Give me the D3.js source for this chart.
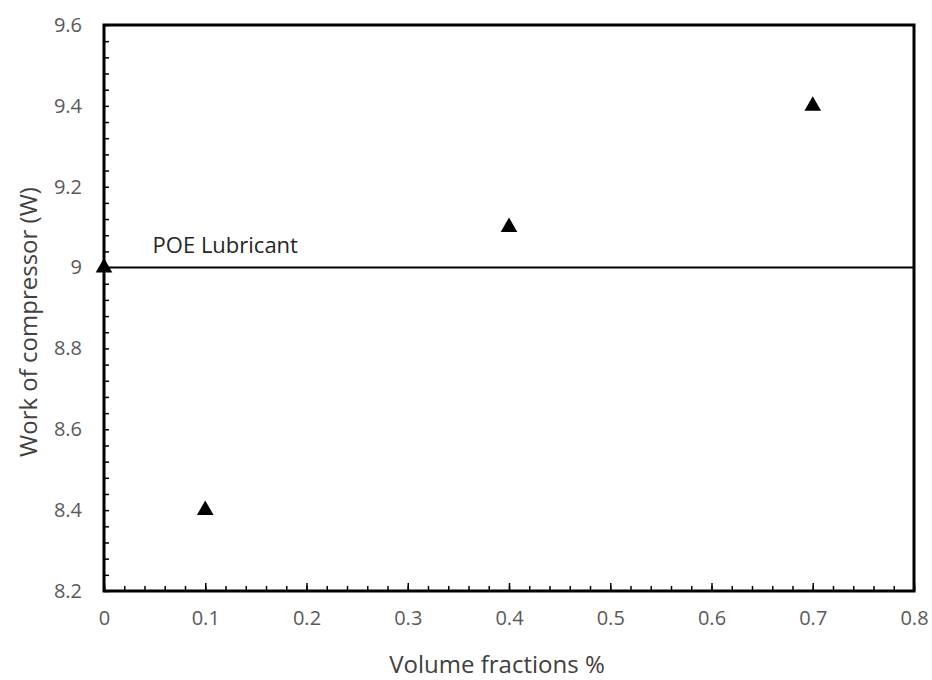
<!DOCTYPE html>
<html>
<head>
<meta charset="utf-8">
<script src="https://cdn.jsdelivr.net/npm/d3@7"></script>
<style>
  body { margin: 0; background: #fff; }
  svg text { font-family: "Open Sans", "Noto Sans", sans-serif; }
</style>
</head>
<body>
<svg></svg>
<script>
const width = 932;
const height = 680;
const svg = d3.select("svg").attr("width", width).attr("height", height);

const fractions = [0, 0.1, 0.4, 0.7];
const work = [9.0, 8.4, 9.1, 9.4];
const xTicks = [0, 0.1, 0.2, 0.3, 0.4, 0.5, 0.6, 0.7, 0.8];
const yTicks = [8.2, 8.4, 8.6, 8.8, 9, 9.2, 9.4, 9.6];
const baseline = 9;
const baselineLabel = "POE Lubricant";

const margin = { top: 25, right: 18, bottom: 89, left: 104 };

const x = d3.scaleLinear().domain([0, 0.8]).range([margin.left, width - margin.right]);
const y = d3.scaleLinear().domain([8.2, 9.6]).range([height - margin.bottom, margin.top]);

const xMinor = d3.range(0, 0.8001, 0.02);
const yMinor = d3.range(8.2, 9.6001, 0.04);

// minor ticks, inside
svg.append("g").attr("transform", `translate(0,${y(8.2)})`)
  .call(d3.axisTop(x).tickValues(xMinor).tickSize(5).tickFormat(""))
  .call(g => g.select(".domain").remove())
  .selectAll("line").attr("stroke", "#000").attr("stroke-width", 1.5);

svg.append("g").attr("transform", `translate(${x(0)},0)`)
  .call(d3.axisRight(y).tickValues(yMinor).tickSize(5).tickFormat(""))
  .call(g => g.select(".domain").remove())
  .selectAll("line").attr("stroke", "#000").attr("stroke-width", 1.5);

// major ticks on x
svg.append("g").attr("transform", `translate(0,${y(8.2)})`)
  .call(d3.axisTop(x).tickValues(xTicks).tickSize(8).tickFormat(""))
  .call(g => g.select(".domain").remove())
  .selectAll("line").attr("stroke", "#000").attr("stroke-width", 1.5);

// tick labels
svg.append("g").attr("transform", `translate(0,${y(8.2)})`)
  .call(d3.axisBottom(x).tickValues(xTicks).tickSize(0).tickPadding(20).tickFormat(d3.format("~g")))
  .call(g => g.select(".domain").remove())
  .selectAll("text").attr("fill", "#595959").attr("font-size", 20);

svg.append("g").attr("transform", `translate(${x(0)},0)`)
  .call(d3.axisLeft(y).tickValues(yTicks).tickSize(0).tickPadding(22).tickFormat(d3.format("~g")))
  .call(g => g.select(".domain").remove())
  .selectAll("text").attr("fill", "#595959").attr("font-size", 20);

// frame
svg.append("rect")
  .attr("x", x(0)).attr("y", y(9.6))
  .attr("width", x(0.8) - x(0)).attr("height", y(8.2) - y(9.6))
  .attr("fill", "none").attr("stroke", "#000").attr("stroke-width", 3);

// baseline
svg.append("line")
  .attr("x1", x(0)).attr("x2", x(0.8))
  .attr("y1", y(baseline)).attr("y2", y(baseline))
  .attr("stroke", "#000").attr("stroke-width", 2);

svg.append("text")
  .attr("x", x(0.048)).attr("y", y(baseline) - 15)
  .attr("font-size", 22).attr("fill", "#262626")
  .text(baselineLabel);

// points
const tri = d3.symbol().type(d3.symbolTriangle).size(120);
svg.append("g").selectAll("path")
  .data(fractions.map((f, i) => ({ f, w: work[i] })))
  .join("path")
  .attr("transform", d => `translate(${x(d.f)},${y(d.w)})`)
  .attr("d", tri)
  .attr("fill", "#000");

// axis titles
svg.append("text")
  .attr("x", 497).attr("y", 673)
  .attr("text-anchor", "middle").attr("font-size", 24).attr("fill", "#404040")
  .text("Volume fractions %");

svg.append("text")
  .attr("transform", `translate(37,322) rotate(-90)`)
  .attr("text-anchor", "middle").attr("font-size", 24).attr("fill", "#404040")
  .text("Work of compressor (W)");
</script>
</body>
</html>
